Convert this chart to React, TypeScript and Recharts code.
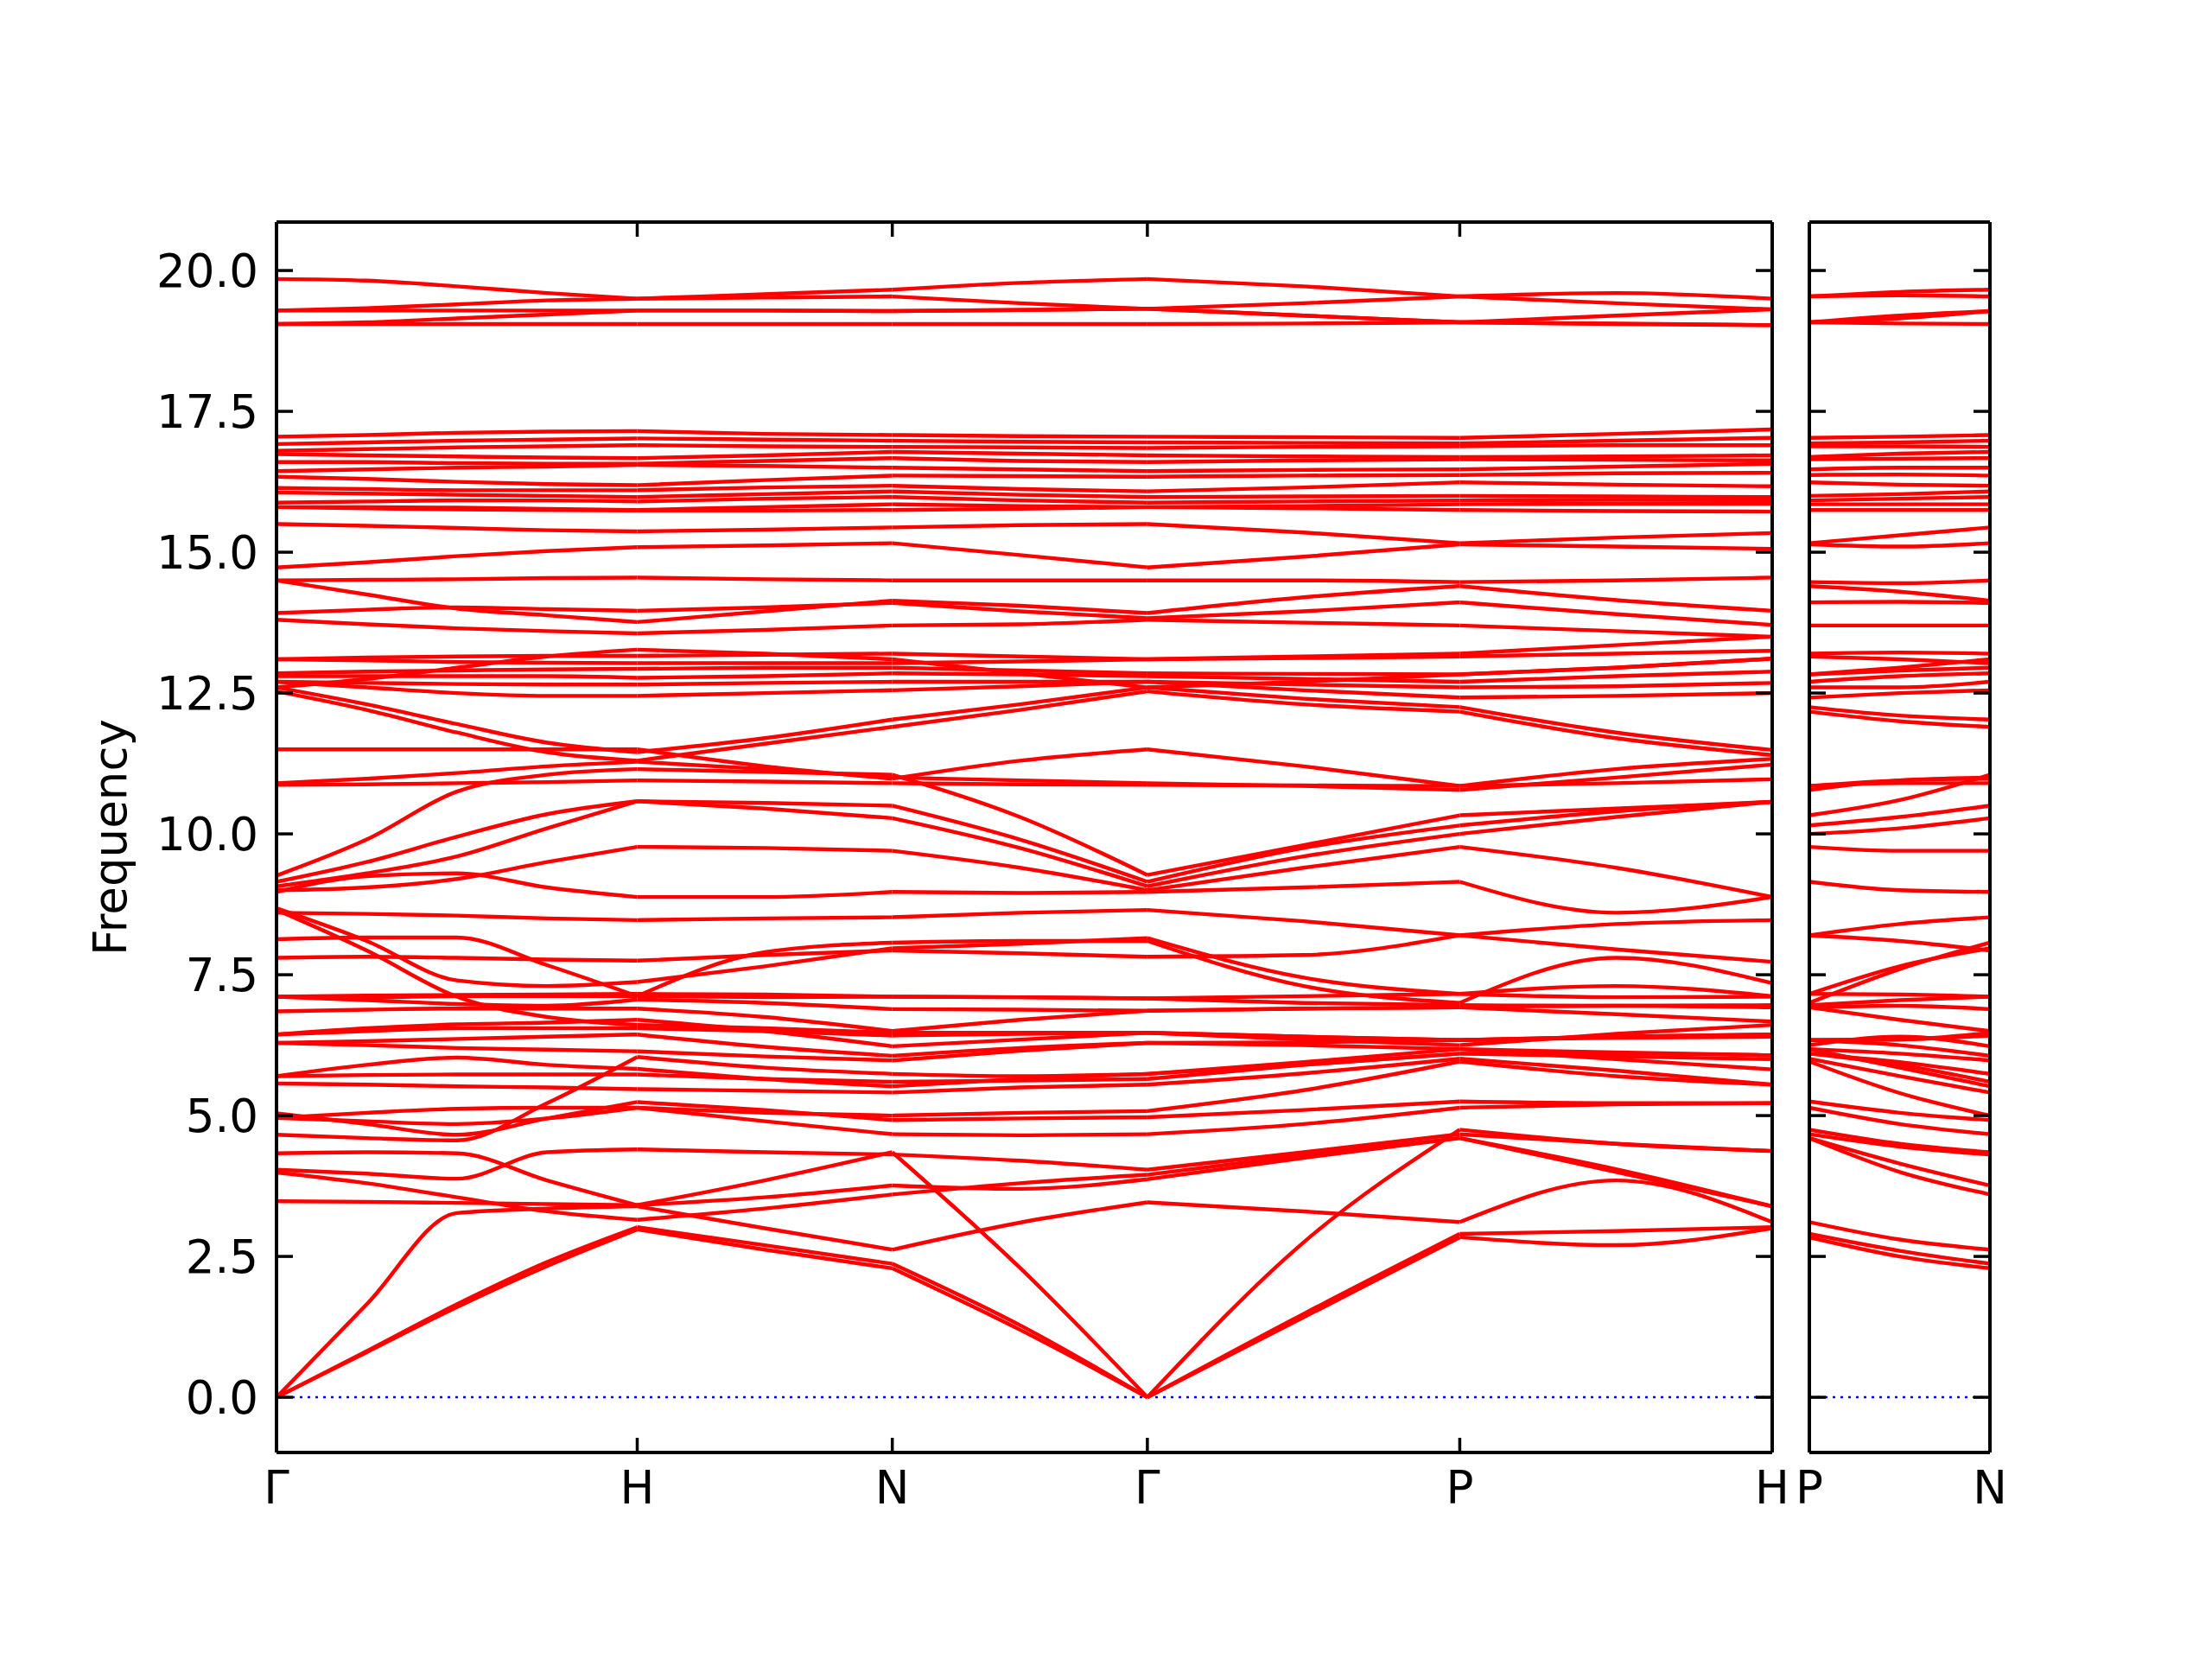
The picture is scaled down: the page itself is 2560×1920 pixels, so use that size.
import React from 'react';
import { LineChart, Line, XAxis, YAxis, ReferenceLine } from 'recharts';

// q-path distances (2π/a) of the sampled points along Γ-H-N-Γ-P-H
const pathQ = [0, 0.25, 0.5, 0.75, 1, 1.3536, 1.7071, 2.0607, 2.4142, 2.8472, 3.2802, 3.7133, 4.1463];
const pathTicks = [0, 1, 1.7071, 2.4142, 3.2802, 4.1463];
const pathLabels = ['Γ', 'H', 'N', 'Γ', 'P', 'H'];
// index ranges of pathQ for each segment between special points
const pathSegments = [[0, 4], [4, 6], [6, 8], [8, 10], [10, 12]];

// second panel P-N
const sideQ = [0, 0.25, 0.5];
const sideTicks = [0, 0.5];
const sideLabels = ['P', 'N'];

const freqTicks = [0, 2.5, 5, 7.5, 10, 12.5, 15, 17.5, 20];
const freqDomain = [-0.98, 20.86];

// each band: 13 values on pathQ, then the value halfway P-N (side panel)
const acousticBands = [
  [0, 0.8, 1.6, 2.33, 2.98, 2.62, 2.29, 1.2, 0, 1.42, 2.84, 2.7, 3.0, 2.5],
  [0, 0.82, 1.65, 2.4, 3.02, 2.7, 2.37, 1.28, 0, 1.48, 2.9, 2.95, 3.02, 2.6],
  [0, 1.65, 3.27, 3.35, 3.39, 3.0, 2.62, 3.1, 3.46, 3.3, 3.11, 3.85, 3.11, 2.8],
  [4.33, 4.35, 4.33, 3.85, 3.41, 3.85, 4.35, 2.3, 0, 2.75, 4.75, 4.5, 4.37, 4.5],
];

const lowBands = [
  [3.48, 3.47, 3.45, 3.43, 3.41, 3.55, 3.76, 3.7, 3.87, 4.25, 4.6, 4.0, 3.39, 4.15],
  [3.99, 3.8, 3.55, 3.3, 3.15, 3.35, 3.6, 3.8, 3.95, 4.3, 4.6, 4.05, 3.39, 4.0],
  [4.04, 3.97, 3.88, 4.35, 4.4, 4.35, 4.31, 4.2, 4.04, 4.35, 4.67, 4.5, 4.37, 4.45],
  [4.66, 4.6, 4.56, 5.22, 6.04, 5.85, 5.74, 5.7, 5.74, 5.9, 6.1, 6.1, 6.07, 5.95],
  [5.04, 4.85, 4.66, 4.95, 5.24, 5.1, 4.92, 4.95, 4.97, 5.1, 5.25, 5.22, 5.22, 5.05],
  [4.96, 5.05, 5.12, 5.14, 5.14, 5.05, 5.0, 5.05, 5.08, 5.45, 5.96, 5.7, 5.55, 5.4],
  [4.96, 4.9, 4.85, 4.95, 5.14, 4.9, 4.67, 4.65, 4.67, 4.85, 5.14, 5.2, 5.22, 4.85],
  [5.57, 5.55, 5.52, 5.5, 5.47, 5.44, 5.41, 5.5, 5.55, 5.75, 6.01, 5.8, 5.55, 5.7],
  [5.7, 5.9, 6.03, 5.9, 5.83, 5.65, 5.52, 5.65, 5.74, 5.95, 6.18, 6.0, 5.82, 5.85],
  [5.7, 5.72, 5.73, 5.73, 5.73, 5.65, 5.6, 5.62, 5.65, 5.9, 6.1, 6.05, 6.0, 5.9],
  [6.29, 6.25, 6.2, 6.17, 6.14, 6.05, 5.98, 6.15, 6.29, 6.25, 6.18, 6.12, 6.07, 6.1],
  [6.29, 6.32, 6.36, 6.4, 6.44, 6.22, 6.06, 6.2, 6.29, 6.3, 6.34, 6.38, 6.4, 6.25],
  [6.44, 6.55, 6.62, 6.65, 6.7, 6.5, 6.23, 6.35, 6.47, 6.35, 6.25, 6.45, 6.61, 6.4],
  [6.44, 6.5, 6.55, 6.55, 6.55, 6.5, 6.42, 6.45, 6.47, 6.4, 6.34, 6.4, 6.44, 6.35],
  [6.85, 6.88, 6.9, 6.9, 6.9, 6.75, 6.5, 6.7, 6.86, 6.9, 6.92, 6.8, 6.67, 6.7],
  [7.11, 7.05, 6.98, 6.95, 7.06, 7.0, 6.89, 6.88, 6.86, 6.9, 6.92, 6.95, 6.92, 6.95],
  [7.11, 7.1, 7.12, 7.12, 7.12, 7.1, 7.11, 7.1, 7.08, 7.0, 6.96, 6.95, 6.96, 7.05],
  [7.11, 7.13, 7.14, 7.15, 7.16, 7.15, 7.11, 7.1, 7.08, 7.12, 7.16, 7.1, 7.11, 7.15],
  [7.8, 7.82, 7.8, 7.77, 7.75, 7.85, 7.93, 7.88, 7.82, 7.85, 8.2, 7.95, 7.73, 8.1],
  [8.13, 8.16, 8.16, 7.67, 7.12, 7.9, 8.07, 8.1, 8.1, 7.3, 7.0, 7.8, 7.35, 7.6],
  [8.65, 7.93, 7.11, 6.75, 6.61, 6.55, 6.47, 6.47, 6.47, 6.4, 6.34, 6.4, 6.44, 6.35],
  [8.68, 8.1, 7.4, 7.3, 7.37, 7.65, 7.97, 8.05, 8.15, 7.45, 7.16, 7.3, 7.12, 7.65],
];

const midBands = [
  [8.6, 8.58, 8.55, 8.5, 8.47, 8.5, 8.52, 8.6, 8.65, 8.45, 8.2, 8.4, 8.47, 8.4],
  [8.97, 9.25, 9.3, 9.05, 8.88, 8.88, 8.97, 8.95, 8.97, 9.05, 9.15, 8.6, 8.88, 9.0],
  [9.0, 9.05, 9.2, 9.5, 9.77, 9.75, 9.7, 9.4, 9.0, 9.4, 9.77, 9.4, 8.88, 9.7],
  [9.07, 9.3, 9.6, 10.1, 10.58, 10.45, 10.28, 9.75, 9.07, 9.6, 10.0, 10.3, 10.57, 10.1],
  [9.15, 9.5, 9.95, 10.35, 10.58, 10.55, 10.5, 9.9, 9.15, 9.75, 10.15, 10.4, 10.57, 10.3],
  [9.26, 9.9, 10.75, 11.05, 11.15, 11.1, 11.05, 10.3, 9.27, 9.8, 10.33, 10.45, 10.57, 10.6],
  [10.87, 10.88, 10.9, 10.92, 10.95, 10.93, 10.9, 10.88, 10.87, 10.86, 10.85, 10.9, 10.97, 10.9],
  [10.9, 10.98, 11.08, 11.2, 11.28, 11.15, 11.0, 10.95, 10.9, 10.85, 10.78, 11.0, 11.23, 10.95],
  [11.5, 11.5, 11.5, 11.5, 11.5, 11.2, 10.98, 11.3, 11.5, 11.2, 10.85, 11.15, 11.33, 10.95],
  [12.53, 12.2, 11.8, 11.45, 11.3, 11.6, 11.9, 12.2, 12.53, 12.3, 12.17, 11.7, 11.4, 12.0],
  [12.6, 12.3, 11.95, 11.62, 11.45, 11.7, 12.03, 12.3, 12.6, 12.4, 12.25, 11.8, 11.49, 12.1],
  [12.7, 12.6, 12.5, 12.45, 12.45, 12.5, 12.55, 12.62, 12.7, 12.55, 12.42, 12.45, 12.5, 12.5],
  [12.7, 12.68, 12.66, 12.65, 12.65, 12.68, 12.7, 12.7, 12.7, 12.65, 12.6, 12.62, 12.68, 12.6],
  [12.8, 12.8, 12.8, 12.8, 12.77, 12.8, 12.85, 12.83, 12.8, 12.75, 12.7, 12.8, 12.88, 12.8],
  [12.6, 12.75, 12.95, 13.15, 13.27, 13.2, 13.1, 12.85, 12.6, 12.7, 12.83, 12.95, 13.11, 12.95],
  [12.85, 12.88, 12.9, 12.92, 12.93, 12.95, 12.95, 12.9, 12.85, 12.84, 12.83, 12.95, 13.11, 12.9],
  [13.1, 13.08, 13.05, 13.04, 13.03, 13.03, 13.03, 13.06, 13.1, 13.12, 13.15, 13.2, 13.25, 13.1],
  [13.1, 13.13, 13.15, 13.16, 13.16, 13.18, 13.2, 13.15, 13.1, 13.15, 13.2, 13.35, 13.5, 13.22],
];

const highBands = [
  [13.8, 13.72, 13.65, 13.6, 13.56, 13.62, 13.7, 13.72, 13.8, 13.75, 13.7, 13.6, 13.5, 13.7],
  [13.92, 13.98, 14.02, 13.99, 13.96, 14.02, 14.1, 13.95, 13.83, 13.95, 14.11, 13.9, 13.71, 14.12],
  [14.5, 14.25, 14.0, 13.88, 13.76, 13.95, 14.14, 14.05, 13.92, 14.2, 14.4, 14.15, 13.96, 14.3],
  [14.5, 14.51, 14.52, 14.54, 14.55, 14.52, 14.5, 14.5, 14.5, 14.5, 14.47, 14.5, 14.55, 14.45],
  [14.73, 14.82, 14.93, 15.02, 15.09, 15.12, 15.16, 14.95, 14.73, 14.92, 15.14, 15.1, 15.06, 15.1],
  [15.5, 15.47, 15.43, 15.39, 15.37, 15.4, 15.44, 15.48, 15.5, 15.35, 15.16, 15.26, 15.34, 15.3],
  [15.8, 15.78, 15.76, 15.75, 15.74, 15.74, 15.75, 15.77, 15.8, 15.78, 15.75, 15.73, 15.72, 15.75],
  [15.8, 15.8, 15.79, 15.77, 15.75, 15.8, 15.85, 15.82, 15.8, 15.82, 15.85, 15.86, 15.86, 15.85],
  [15.88, 15.9, 15.92, 15.92, 15.9, 15.95, 15.98, 15.92, 15.88, 15.9, 15.92, 15.93, 15.92, 15.95],
  [16.06, 16.04, 16.02, 16.0, 15.98, 16.03, 16.08, 16.02, 15.98, 15.99, 16.0, 15.99, 15.98, 16.03],
  [16.14, 16.12, 16.1, 16.1, 16.1, 16.15, 16.18, 16.12, 16.08, 16.15, 16.24, 16.2, 16.17, 16.2],
  [16.34, 16.3, 16.25, 16.21, 16.19, 16.28, 16.36, 16.35, 16.34, 16.36, 16.37, 16.4, 16.41, 16.38],
  [16.44, 16.47, 16.5, 16.52, 16.55, 16.53, 16.5, 16.47, 16.44, 16.46, 16.47, 16.52, 16.57, 16.5],
  [16.6, 16.6, 16.58, 16.57, 16.57, 16.62, 16.67, 16.62, 16.6, 16.63, 16.65, 16.64, 16.63, 16.66],
  [16.74, 16.72, 16.7, 16.68, 16.67, 16.72, 16.78, 16.75, 16.72, 16.7, 16.69, 16.7, 16.72, 16.75],
  [16.8, 16.83, 16.86, 16.88, 16.9, 16.88, 16.87, 16.86, 16.85, 16.87, 16.88, 16.9, 16.9, 16.88],
  [16.92, 16.95, 16.98, 17.0, 17.02, 17.0, 16.98, 16.96, 16.95, 16.94, 16.93, 16.98, 17.03, 16.95],
  [17.05, 17.08, 17.12, 17.14, 17.15, 17.1, 17.08, 17.06, 17.05, 17.04, 17.03, 17.1, 17.18, 17.05],
];

const topBands = [
  [19.05, 19.05, 19.05, 19.05, 19.05, 19.05, 19.05, 19.05, 19.05, 19.06, 19.08, 19.06, 19.03, 19.06],
  [19.05, 19.08, 19.15, 19.22, 19.29, 19.29, 19.28, 19.3, 19.32, 19.2, 19.08, 19.2, 19.31, 19.15],
  [19.29, 19.29, 19.29, 19.29, 19.29, 19.29, 19.28, 19.3, 19.32, 19.2, 19.08, 19.05, 19.03, 19.2],
  [19.29, 19.33, 19.4, 19.47, 19.5, 19.52, 19.54, 19.42, 19.32, 19.42, 19.54, 19.6, 19.5, 19.56],
  [19.85, 19.82, 19.72, 19.6, 19.5, 19.58, 19.66, 19.78, 19.85, 19.72, 19.54, 19.42, 19.31, 19.62],
];

const FONT = '"DejaVu Sans", sans-serif';
const RED = '#ff0000';

const bands = [...acousticBands, ...lowBands, ...midBands, ...highBands, ...topBands];

type Pt = { q: number; v: number };

// one polyline per band per path segment, like the original plot
const mainSeries: Pt[][] = [];
bands.forEach((b) => {
  pathSegments.forEach(([a, z]) => {
    mainSeries.push(pathQ.slice(a, z + 1).map((q, k) => ({ q, v: b[a + k] })));
  });
});

// side panel: P (index 10), midpoint (index 13), N (index 6)
const sideCols = [10, 13, 6];
const sideSeries: Pt[][] = bands.map((b) => sideQ.map((q, i) => ({ q, v: b[sideCols[i]] })));

const frame = { stroke: '#000', strokeWidth: 4 };
const tickLn = { stroke: '#000', strokeWidth: 3.5 };
const blank = () => '';
const tickFont = { fontSize: 53, fill: '#000', fontFamily: FONT };

interface PanelProps {
  width: number;
  margin: { top: number; right: number; bottom: number; left: number };
  series: Pt[][];
  qMax: number;
  qTicks: number[];
  qLabels: string[];
  showFreq: boolean;
}

const BandPanel: React.FC<PanelProps> = ({ width, margin, series, qMax, qTicks, qLabels, showFreq }) => {
  const axisData = qTicks.map((q) => ({ q }));
  return (
    <LineChart width={width} height={1920} data={axisData} margin={margin}>
      <XAxis xAxisId="q" dataKey="q" type="number" domain={[0, qMax]} ticks={qTicks} interval={0}
        allowDataOverflow height={80} axisLine={frame} tickLine={false} tickSize={0} tickMargin={21}
        tickFormatter={(v: number) => qLabels[qTicks.indexOf(v)]} tick={tickFont} />
      <XAxis xAxisId="qb" dataKey="q" type="number" domain={[0, qMax]} ticks={qTicks} interval={0} allowDataOverflow
        orientation="bottom" mirror axisLine={false} tickLine={tickLn} tickSize={17} tickFormatter={blank} />
      <XAxis xAxisId="qt" dataKey="q" type="number" domain={[0, qMax]} ticks={qTicks} interval={0} allowDataOverflow
        orientation="top" mirror axisLine={frame} tickLine={tickLn} tickSize={17} tickFormatter={blank} />
      <YAxis yAxisId="f" type="number" domain={freqDomain} ticks={freqTicks} interval={0} allowDataOverflow
        orientation="left" mirror axisLine={frame} tickLine={tickLn} tickSize={19} tickFormatter={blank} />
      <YAxis yAxisId="fr" type="number" domain={freqDomain} ticks={freqTicks} interval={0} allowDataOverflow
        orientation="right" mirror axisLine={frame} tickLine={tickLn} tickSize={19} tickFormatter={blank} />
      {showFreq && (
        <YAxis yAxisId="fl" type="number" domain={freqDomain} ticks={freqTicks} interval={0} allowDataOverflow
          orientation="left" width={120} axisLine={false} tickLine={false} tickSize={0} tickMargin={21}
          tickFormatter={(v: number) => v.toFixed(1)} tick={tickFont} />
      )}
      <ReferenceLine xAxisId="q" yAxisId="f" y={0} stroke="#0000ff" strokeWidth={2.5} strokeDasharray="3 6" />
      {series.map((pts, i) => (
        <Line key={i} data={pts} xAxisId="q" yAxisId="f" dataKey="v" type="monotone" stroke={RED} strokeWidth={4.4}
          dot={false} activeDot={false} isAnimationActive={false} />
      ))}
    </LineChart>
  );
};

export default function App() {
  return (
    <div style={{ position: 'absolute', left: 0, top: 0, width: 2560, height: 1920, background: '#fff', overflow: 'hidden' }}>
      <div style={{ position: 'absolute', left: 0, top: 0 }}>
        <BandPanel width={2080} margin={{ top: 257, right: 29, bottom: 159, left: 200 }} series={mainSeries}
          qMax={4.1463} qTicks={pathTicks} qLabels={pathLabels} showFreq />
      </div>
      <div style={{ position: 'absolute', left: 2075, top: 0 }}>
        <BandPanel width={250} margin={{ top: 257, right: 22, bottom: 159, left: 19 }} series={sideSeries}
          qMax={0.5} qTicks={sideTicks} qLabels={sideLabels} showFreq={false} />
      </div>
      <div style={{ position: 'absolute', left: 127, top: 969, transform: 'translate(-50%, -50%) rotate(-90deg)',
        fontFamily: FONT, fontSize: 53, color: '#000', whiteSpace: 'nowrap' }}>
        Frequency
      </div>
    </div>
  );
}
